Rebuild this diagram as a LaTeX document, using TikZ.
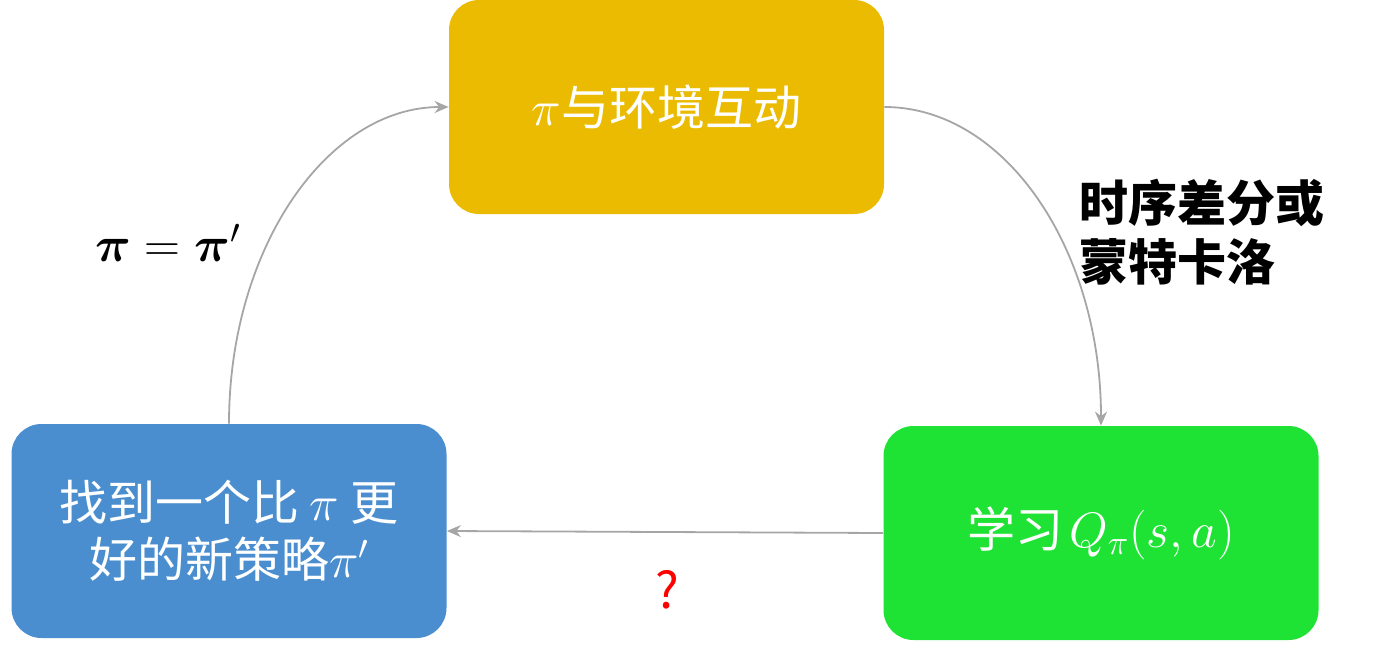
\documentclass[tikz,border=0pt]{standalone}
\usepackage{amsmath}
\usepackage{fontspec}
\newfontfamily\cjk{Noto Sans CJK SC}
\usetikzlibrary{arrows.meta}
\definecolor{boxyellow}{HTML}{EABB00}
\definecolor{boxblue}{HTML}{4A8ECF}
\definecolor{boxgreen}{HTML}{1EE335}
\definecolor{arrowgray}{HTML}{A6A6A6}
\tikzset{
  box/.style={rounded corners=15pt, minimum width=217.5pt, minimum height=107pt, inner sep=0pt, text=white, align=center, font=\cjk\fontsize{24}{28.5}\selectfont},
  conn/.style={draw=arrowgray, line width=0.9pt, -{Stealth[length=7pt,width=6pt]}},
  lbl/.style={font=\cjk\bfseries\fontsize{24.5}{29.5}\selectfont, align=left}
}
\begin{document}
\begin{tikzpicture}[x=0.5pt,y=-0.5pt]
\useasboundingbox (0,0) rectangle (1400,648);
\node[box, fill=boxyellow] (top) at (666.5,107) {$\pi$与环境互动};
\node[box, fill=boxblue] (left) at (229,531) {找到一个比\hspace{5pt}$\pi$\hspace{6pt}更\\好的新策略$\pi'$};
\node[box, fill=boxgreen] (right) at (1101,533) {学习\hspace{3pt}$Q_{\pi}(s,a)$};
\draw[conn] (top.east) .. controls +(121,0) and +(0,-176) .. (right.north);
\draw[conn] (left.north) .. controls +(0,-176) and +(-121,0) .. (top.west);
\draw[conn] (right.west) -- (left.east);
\node[lbl, anchor=west] (td) at (1072,232) {时序差分或\\蒙特卡洛};
\node[font=\fontsize{26}{30}\selectfont] (eq) at (168,243) {$\boldsymbol{\pi} \;\mathbf{=}\; \boldsymbol{\pi}'$};
\node[text=red, font=\cjk\fontsize{25}{28}\selectfont] (q) at (667,590) {?};
\end{tikzpicture}
\end{document}
